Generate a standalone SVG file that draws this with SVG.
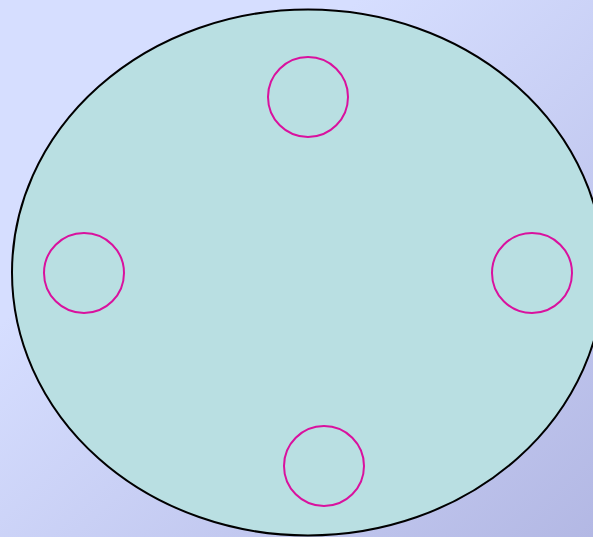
<svg xmlns="http://www.w3.org/2000/svg" width="593" height="537" viewBox="0 0 593 537">
<defs>
<linearGradient id="bg" x1="0" y1="0" x2="1" y2="1">
<stop offset="0.3" stop-color="#d6deff"/>
<stop offset="1" stop-color="#b3b8e4"/>
</linearGradient>
<style>
.hole{fill:none;stroke:#d9119e;stroke-width:2}
.body{fill:#b9dfe2;stroke:#000;stroke-width:2}
</style>
</defs>
<rect width="593" height="537" fill="url(#bg)"/>
<g id="plate"><ellipse class="body" cx="308" cy="272.5" rx="296" ry="263"/></g>
<g id="hole-top"><circle class="hole" cx="308" cy="97" r="40"/></g>
<g id="hole-left"><circle class="hole" cx="84" cy="273" r="40"/></g>
<g id="hole-right"><circle class="hole" cx="532" cy="273" r="40"/></g>
<g id="hole-bottom"><circle class="hole" cx="324" cy="466" r="40"/></g>
<g id="connectors"/>
</svg>
